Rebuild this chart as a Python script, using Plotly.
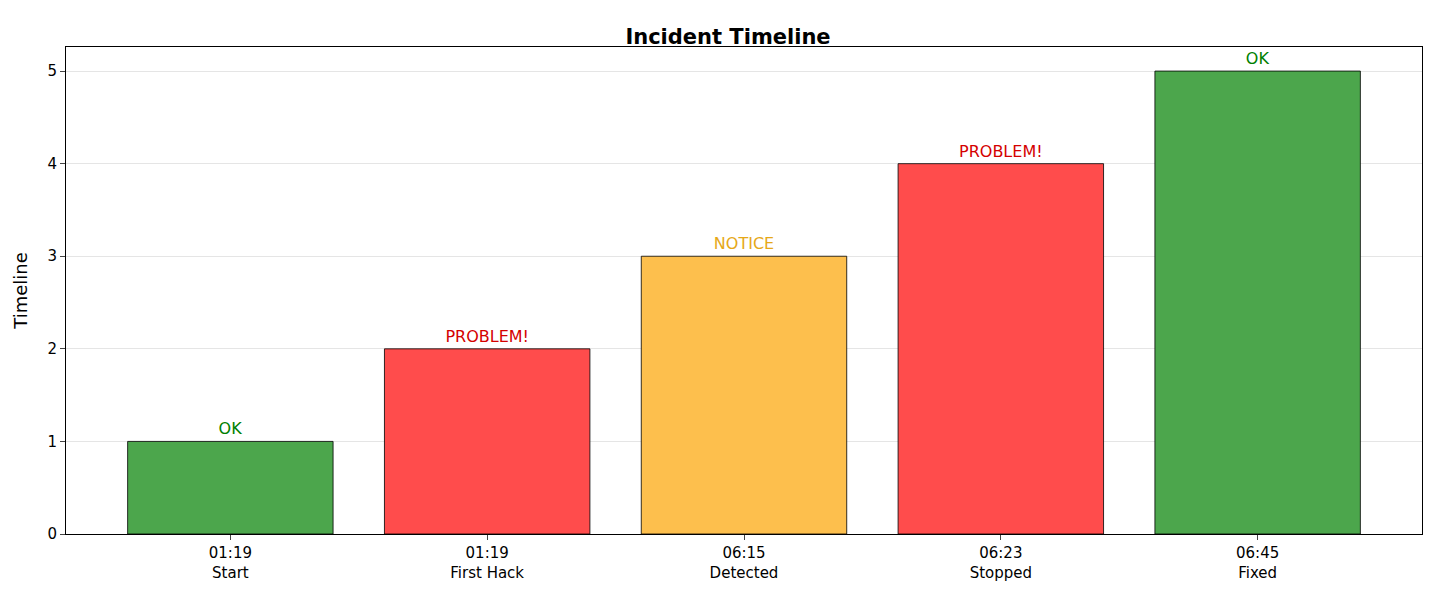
import plotly.graph_objects as go

times = ["01:19", "01:19", "06:15", "06:23", "06:45"]
events = ["Start", "First Hack", "Detected", "Stopped", "Fixed"]
values = [1, 2, 3, 4, 5]
statuses = ["OK", "PROBLEM!", "NOTICE", "PROBLEM!", "OK"]
fill = {"OK": "#4ca64c", "PROBLEM!": "#ff4c4c", "NOTICE": "#fdbf4d"}
textc = {"OK": "#008000", "PROBLEM!": "#d40000", "NOTICE": "#e6a817"}

x = list(range(len(values)))
fig = go.Figure(go.Bar(
    x=x, y=values, width=0.8,
    marker=dict(color=[fill[s] for s in statuses], line=dict(color="rgba(0,0,0,0.8)", width=1)),
    text=statuses, textposition="outside",
    textfont=dict(color=[textc[s] for s in statuses], size=16, family="DejaVu Sans"),
    cliponaxis=False,
))
fig.update_layout(
    width=1440, height=600, plot_bgcolor="white", paper_bgcolor="white",
    margin=dict(l=58, r=26, t=39, b=74),
    font=dict(family="DejaVu Sans", size=15, color="black"),
    title=dict(text="<b>Incident Timeline</b>", x=0.5, xanchor="center", y=0.965, font=dict(size=21)),
    showlegend=False, bargap=0.2,
)
fig.update_xaxes(range=[-0.64, 4.64], tickvals=x,
                 ticktext=[f"{t}<br>{e}" for t, e in zip(times, events)],
                 showline=True, linecolor="black", mirror=True, ticks="outside",
                 ticklen=5, showgrid=False)
fig.update_yaxes(range=[0, 5.26], dtick=1, title=dict(text="Timeline", font=dict(size=18)),
                 showline=True, linecolor="black", mirror=True, ticks="outside", ticklen=5,
                 gridcolor="rgba(0,0,0,0.1)", zeroline=False)
fig.write_html("out.html")
